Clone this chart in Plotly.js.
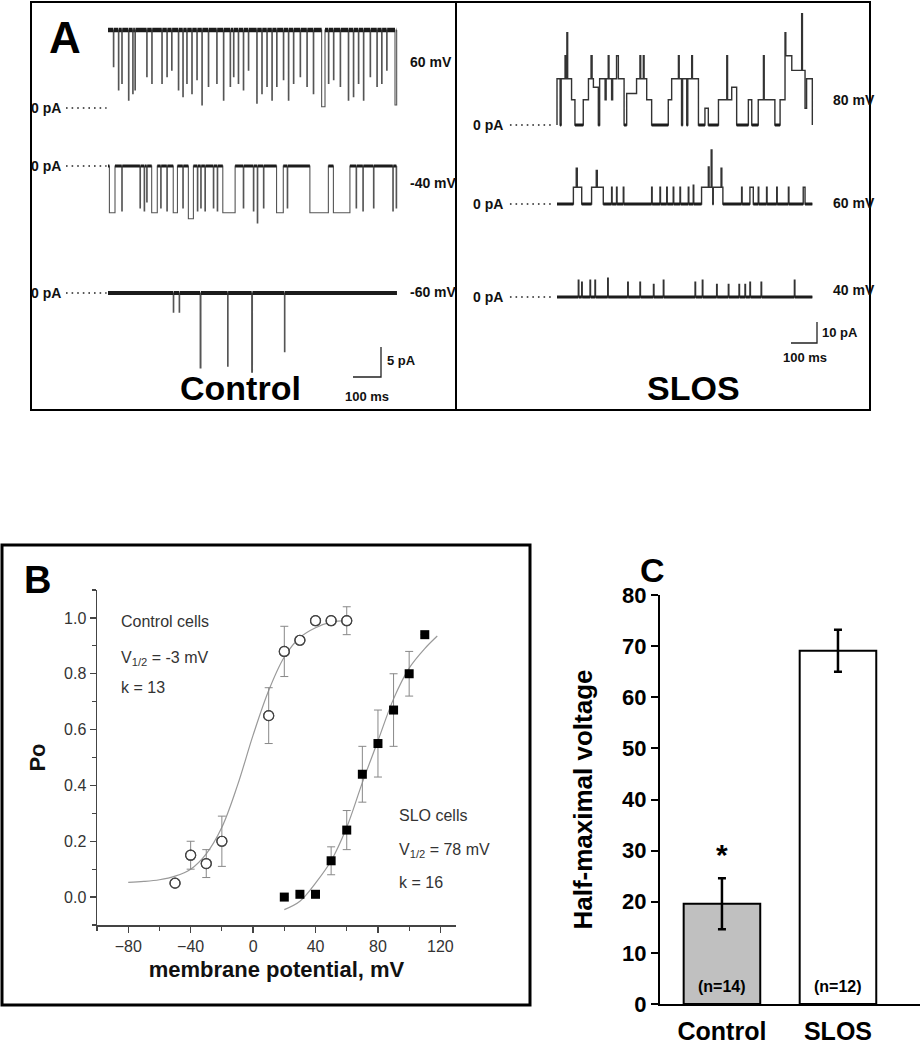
<!DOCTYPE html>
<html>
<head>
<meta charset="utf-8">
<script src="https://cdn.plot.ly/plotly-3.0.1.min.js"></script>
<style>
  body { margin: 0; background: #fff; }
  #chart { width: 921px; height: 1050px; }
</style>
</head>
<body>
<div id="chart"></div>
<script>
// ---- Panel B: open probability vs membrane potential ----
const ctlV = [-50, -40, -30, -20, 10, 20, 30, 40, 50, 60];
const ctlPo = [0.05, 0.15, 0.12, 0.20, 0.65, 0.88, 0.92, 0.99, 0.99, 0.99];
const ctlErr = [0.01, 0.05, 0.05, 0.09, 0.10, 0.09, 0.01, 0, 0, 0.05];
const sloV = [20, 30, 40, 50, 60, 70, 80, 90, 100, 110];
const sloPo = [0.0, 0.01, 0.01, 0.13, 0.24, 0.44, 0.55, 0.67, 0.80, 0.94];
const sloErr = [0, 0, 0.01, 0.05, 0.07, 0.10, 0.12, 0.13, 0.08, 0];
// fitted curves
const ctlFitV = [-80, -70, -60, -50, -40, -30, -20, -10, 0, 10, 20, 30, 40, 50, 60];
const ctlFitPo = [0.053, 0.056, 0.062, 0.075, 0.10, 0.155, 0.25, 0.40, 0.58, 0.74, 0.86, 0.93, 0.965, 0.985, 0.99];
const sloFitV = [20, 30, 40, 50, 60, 70, 80, 90, 100, 110, 118];
const sloFitPo = [-0.045, -0.015, 0.05, 0.13, 0.25, 0.41, 0.56, 0.71, 0.82, 0.89, 0.935];

// ---- Panel C: half-maximal voltage ----
const groups = ['Control', 'SLOS'];
const halfV = [19.6, 69.1];
const halfErr = [5.0, 4.1];
const nCells = [14, 12];

// ---- Panel A: single channel records (ms, pA) ----
// each record: resting level, then events (start ms, duration ms, current pA)
const ctlTotal = 1032;
const ctl60Base = 13;
const ctl60Start = [19, 37, 49, 73, 88, 96, 138, 156, 192, 210, 227, 251, 267, 281, 299, 317, 335, 358, 388, 412,
  436, 448, 465, 483, 501, 531, 549, 567, 585, 602, 626, 644, 662, 686, 710, 733, 763, 787, 805, 829,
  858, 876, 894, 912, 936, 960, 977, 995, 1025];
const ctl60Dur = [2, 2, 2, 2, 2, 2, 2, 2, 2, 2, 2, 2, 2, 2, 2, 2, 2, 2, 2, 2,
  2, 2, 2, 2, 2, 2, 2, 2, 2, 2, 2, 2, 2, 2, 2, 2, 12, 2, 2, 2,
  2, 2, 2, 2, 2, 2, 2, 2, 6];
const ctl60Amp = [6.9, 3.0, 4.1, 1.3, 2.4, 3.0, 5.2, 4.1, 4.1, 5.2, 6.3, 3.0, 1.9, 4.1, 2.4, 4.7, 0.5, 3.6, 4.1, 1.3,
  3.6, 5.2, 4.1, 3.0, 6.3, 0.8, 2.4, 3.6, 1.3, 3.6, 4.7, 1.3, 4.1, 5.2, 3.6, 2.4, 0.2, 4.1, 4.7, 3.6,
  1.3, 1.9, 4.1, 1.3, 5.2, 3.6, 4.1, 6.3, 0.5];

const ctlM40Base = 0;
const ctlM40Start = [5, 49, 114, 129, 138, 156, 188, 210, 233, 267, 287, 319, 331, 346, 376, 390, 410, 483, 519, 533,
  555, 602, 640, 721, 805, 886, 910, 948, 1017, 1029];
const ctlM40Dur = [20, 2, 2, 2, 2, 20, 2, 2, 15, 2, 18, 2, 2, 2, 2, 2, 44, 2, 2, 2,
  2, 24, 2, 66, 59, 2, 2, 2, 2, 2];
const ctlM40Amp = [-7.8, -7.5, -7, -7.5, -6, -7.8, -7, -7.5, -7.8, -7, -8.8, -7.5, -7, -7.5, -7, -7.5, -7.8, -7, -7.5, -9.5,
  -7, -7.8, -7, -7.8, -7.8, -7, -7.5, -7, -7.5, -7];

const ctlM60Base = 0;
const ctlM60Start = [233, 254, 329, 427, 513, 630];
const ctlM60Dur = [2, 2, 3, 2, 3, 2];
const ctlM60Amp = [-3.2, -3.2, -12.5, -12.2, -13.2, -9.8];

const sloTotal = 982;
const slo80Base = 0;
const slo80Start = [0, 16, 31, 34, 38, 41, 56, 101, 121, 131, 135, 140, 164, 185, 189, 197, 200, 210, 214, 229,
  236, 268, 306, 319, 322, 332, 335, 345, 428, 441, 467, 470, 483, 503, 518, 521, 569, 621, 653, 656,
  672, 736, 774, 794, 797, 858, 877, 880, 903, 941, 944, 954, 960];
const slo80Dur = [12, 15, 3, 4, 3, 15, 13, 20, 10, 4, 5, 19, 21, 4, 8, 3, 10, 4, 15, 7,
  22, 38, 13, 3, 10, 3, 10, 19, 13, 26, 3, 9, 16, 15, 3, 23, 13, 32, 3, 16,
  19, 13, 20, 3, 41, 19, 3, 23, 38, 3, 10, 6, 22];
const slo80Amp = [22, 22, 33, 22, 44, 22, 12, 12, 22, 33, 22, 18, 22, 12, 22, 33, 22, 12, 22, 33,
  22, 15, 22, 33, 22, 33, 22, 12, 12, 22, 33, 22, 22, 22, 33, 22, 8, 12, 33, 12,
  18, 12, 12, 33, 12, 12, 44, 33, 26, 53, 26, 8, 22];

const slo60Base = 0;
const slo60Start = [63, 74, 78, 133, 151, 155, 210, 229, 255, 364, 396, 422, 447, 473, 505, 524, 556, 582, 585, 593,
  596, 601, 631, 634, 710, 742, 774, 806, 845, 890, 947];
const slo60Dur = [11, 4, 17, 18, 4, 23, 2, 2, 2, 2, 2, 2, 2, 2, 2, 2, 26, 3, 8, 3,
  3, 30, 3, 4, 2, 13, 2, 2, 2, 2, 7];
const slo60Amp = [8, 17, 8, 8, 16, 8, 8, 8, 8, 8, 8, 8, 8, 8, 8, 9, 8, 17.6, 8, 25.7,
  8, 8, 17, 8, 8, 8, 8, 8, 8, 8, 8];

const slo40Base = 0;
const slo40Start = [82, 95, 127, 146, 195, 272, 319, 371, 409, 531, 559, 614, 659, 700, 723, 742, 785, 913];
const slo40Dur = [2, 2, 2, 2, 2, 2, 2, 2, 2, 2, 2, 2, 2, 2, 2, 2, 2, 2];
const slo40Amp = [8, 7, 8, 8, 9, 7, 7, 6, 8, 7, 8, 6, 6, 6, 6, 7, 7, 8];

// scale bars
const ctlBarMs = 100, ctlBarPa = 5;
const sloBarMs = 100, sloBarPa = 10;

// ---------------------------------------------------------------
const W = 921, H = 1050;
const px = x => x / W;
const py = y => 1 - y / H;
const FONT = 'Arial, "Liberation Sans", sans-serif';

// build a step record from events
function buildSteps(base, start, dur, amp, total) {
  const xs = [0], ys = [base];
  for (let i = 0; i < start.length; i++) {
    xs.push(start[i]); ys.push(amp[i]);
    const end = start[i] + dur[i];
    const next = i + 1 < start.length ? start[i + 1] : Infinity;
    if (next > end) { xs.push(end); ys.push(base); }
  }
  xs.push(total); ys.push(ys[ys.length - 1]);
  return { xs, ys };
}

// pieces of the record that sit on the resting level (drawn thicker, like the noise band)
function restPieces(steps, base) {
  const xs = [], ys = [];
  for (let i = 0; i < steps.xs.length - 1; i++) {
    if (steps.ys[i] === base && steps.xs[i + 1] > steps.xs[i]) {
      xs.push(steps.xs[i], steps.xs[i + 1], null);
      ys.push(base, base, null);
    }
  }
  return { xs, ys };
}

const sides = {
  ctl: { x: 'x3', left: 31, right: 456, t0: 108, pxPerMs: 0.28, pxPerPa: 6, total: ctlTotal,
         zeroText: 63, dots: [-150, -5], voltPx: 408, lineW: 1.1, lineC: '#555' },
  slo: { x: 'x4', left: 456, right: 870, t0: 557, pxPerMs: 0.26, pxPerPa: 2.1, total: sloTotal,
         zeroText: 505, dots: [-181, -19], voltPx: 831, lineW: 1.4, lineC: '#333' }
};

const rows = [
  { side: 'ctl', y: 'y3', top: 20, bottom: 120, zero: 108, labelPx: 62, label: '60 mV', band: 4.5,
    base: ctl60Base, start: ctl60Start, dur: ctl60Dur, amp: ctl60Amp },
  { side: 'ctl', y: 'y4', top: 150, bottom: 235, zero: 166, labelPx: 183, label: '-40 mV', band: 3,
    base: ctlM40Base, start: ctlM40Start, dur: ctlM40Dur, amp: ctlM40Amp },
  { side: 'ctl', y: 'y5', top: 280, bottom: 400, zero: 293, labelPx: 292, label: '-60 mV', band: 4,
    base: ctlM60Base, start: ctlM60Start, dur: ctlM60Dur, amp: ctlM60Amp },
  { side: 'slo', y: 'y6', top: 5, bottom: 135, zero: 125, labelPx: 100, label: '80 mV', band: 3,
    base: slo80Base, start: slo80Start, dur: slo80Dur, amp: slo80Amp },
  { side: 'slo', y: 'y7', top: 140, bottom: 215, zero: 204, labelPx: 203, label: '60 mV', band: 3,
    base: slo60Base, start: slo60Start, dur: slo60Dur, amp: slo60Amp },
  { side: 'slo', y: 'y8', top: 265, bottom: 365, zero: 297, labelPx: 290, label: '40 mV', band: 3,
    base: slo40Base, start: slo40Start, dur: slo40Dur, amp: slo40Amp }
];

const data = [];
const annotations = [];
const layout = {
  width: W, height: H,
  margin: { l: 0, r: 0, t: 0, b: 0 },
  paper_bgcolor: '#fff', plot_bgcolor: 'rgba(0,0,0,0)',
  showlegend: false,
  font: { family: FONT, color: '#000' }
};

// time axes for panel A
for (const key of ['ctl', 'slo']) {
  const s = sides[key];
  const name = s.x === 'x3' ? 'xaxis3' : 'xaxis4';
  layout[name] = {
    domain: [px(s.left), px(s.right)],
    range: [(s.left - s.t0) / s.pxPerMs, (s.right - s.t0) / s.pxPerMs],
    visible: false, fixedrange: true,
    anchor: key === 'ctl' ? 'y3' : 'y6'
  };
}

const labelFont = { family: FONT, size: 14, weight: 'bold', color: '#111' };

rows.forEach(r => {
  const s = sides[r.side];
  layout['yaxis' + r.y.slice(1)] = {
    domain: [py(r.bottom), py(r.top)],
    range: [(r.zero - r.bottom) / s.pxPerPa, (r.zero - r.top) / s.pxPerPa],
    visible: false, fixedrange: true, anchor: s.x
  };
  const steps = buildSteps(r.base, r.start, r.dur, r.amp, s.total);
  const rest = restPieces(steps, r.base);
  data.push({
    type: 'scatter', mode: 'lines', x: steps.xs, y: steps.ys, xaxis: s.x, yaxis: r.y,
    line: { shape: 'hv', color: s.lineC, width: s.lineW }, hoverinfo: 'skip'
  });
  data.push({
    type: 'scatter', mode: 'lines', x: rest.xs, y: rest.ys, xaxis: s.x, yaxis: r.y,
    line: { color: '#1c1c1c', width: r.band }, connectgaps: false, hoverinfo: 'skip'
  });
  // dotted 0 pA reference
  data.push({
    type: 'scatter', mode: 'lines', x: s.dots, y: [0, 0], xaxis: s.x, yaxis: r.y,
    line: { color: '#222', width: 1.6, dash: '1.6px,4px' }, hoverinfo: 'skip'
  });
  annotations.push({
    xref: s.x, yref: r.y, x: (s.zeroText - s.t0) / s.pxPerMs, y: 0,
    text: '0 pA', showarrow: false, xanchor: 'right', yanchor: 'middle', font: labelFont
  });
  annotations.push({
    xref: s.x, yref: r.y, x: (s.voltPx - s.t0) / s.pxPerMs, y: (r.zero - r.labelPx) / s.pxPerPa,
    text: r.label, showarrow: false, xanchor: 'left', yanchor: 'middle', font: labelFont
  });
});

// scale bars
function scaleBar(xax, yax, endT, bottom, ms, pa) {
  data.push({
    type: 'scatter', mode: 'lines', x: [endT - ms, endT, endT], y: [bottom, bottom, bottom + pa],
    xaxis: xax, yaxis: yax, line: { color: '#222', width: 1.3 }, hoverinfo: 'skip', cliponaxis: false
  });
}
scaleBar('x3', 'y5', 975, -14, ctlBarMs, ctlBarPa);
scaleBar('x4', 'y8', 1000, -21.9, sloBarMs, sloBarPa);
const barFont = { family: FONT, size: 13, weight: 'bold', color: '#111' };
annotations.push(
  { xref: 'x3', yref: 'y5', x: 988, y: -11.3, text: ctlBarPa + ' pA', showarrow: false, xanchor: 'left', font: barFont },
  { xref: 'x3', yref: 'y5', x: 925, y: -17.2, text: ctlBarMs + ' ms', showarrow: false, font: barFont },
  { xref: 'x4', yref: 'y8', x: 1010, y: -17, text: sloBarPa + ' pA', showarrow: false, xanchor: 'left', font: barFont },
  { xref: 'x4', yref: 'y8', x: 954, y: -29, text: sloBarMs + ' ms', showarrow: false, font: barFont }
);

// ---- Panel B ----
layout.xaxis = {
  domain: [px(97), px(456)], anchor: 'y', range: [-100, 130],
  tick0: -80, dtick: 40, ticks: 'outside', ticklen: 6, tickwidth: 1.3, tickcolor: '#444',
  minor: { dtick: 20, tick0: -100, ticks: 'outside', ticklen: 4, tickcolor: '#444', tickwidth: 1.2 },
  showline: true, linecolor: '#444', linewidth: 1.5, showgrid: false, zeroline: false,
  tickfont: { size: 16, color: '#333' },
  title: { text: 'membrane potential, mV', font: { size: 22, weight: 'bold', color: '#111' }, standoff: 8 },
  fixedrange: true
};
layout.yaxis = {
  domain: [py(925), py(590)], anchor: 'x', range: [-0.1, 1.1],
  tick0: 0, dtick: 0.2, tickformat: '.1f', ticks: 'outside', ticklen: 6, tickwidth: 1.3, tickcolor: '#444',
  minor: { dtick: 0.1, tick0: -0.1, ticks: 'outside', ticklen: 4, tickcolor: '#444', tickwidth: 1.2 },
  showline: true, linecolor: '#444', linewidth: 1.5, showgrid: false, zeroline: false,
  tickfont: { size: 16, color: '#333' },
  title: { text: 'Po', font: { size: 22, weight: 'bold', color: '#111' }, standoff: 12 },
  fixedrange: true
};

data.push(
  { type: 'scatter', mode: 'lines', x: ctlFitV, y: ctlFitPo, line: { shape: 'spline', color: '#999', width: 1.2 },
    hoverinfo: 'skip' },
  { type: 'scatter', mode: 'lines', x: sloFitV, y: sloFitPo, line: { shape: 'spline', color: '#999', width: 1.2 },
    hoverinfo: 'skip' },
  { type: 'scatter', mode: 'markers', x: ctlV, y: ctlPo, name: 'Control cells',
    error_y: { type: 'data', array: ctlErr, color: '#888', thickness: 1, width: 4 },
    marker: { symbol: 'circle-open', size: 10, color: '#444', line: { width: 1.2, color: '#444' } } },
  { type: 'scatter', mode: 'markers', x: ctlV, y: ctlPo, hoverinfo: 'skip',
    marker: { symbol: 'circle', size: 8, color: '#fff' } },
  { type: 'scatter', mode: 'markers', x: ctlV, y: ctlPo, hoverinfo: 'skip',
    marker: { symbol: 'circle-open', size: 10, color: '#444', line: { width: 1.2, color: '#444' } } },
  { type: 'scatter', mode: 'markers', x: sloV, y: sloPo, name: 'SLO cells',
    error_y: { type: 'data', array: sloErr, color: '#888', thickness: 1, width: 4 },
    marker: { symbol: 'square', size: 9, color: '#000' } }
);

const bText = (x, y, text) => ({
  xref: 'x', yref: 'y', x, y, text, showarrow: false, xanchor: 'left', yanchor: 'middle',
  font: { size: 16, color: '#333' }
});
annotations.push(
  bText(-86, 0.988, 'Control cells'),
  bText(-86, 0.855, 'V<sub>1/2</sub> = -3 mV'),
  bText(-86, 0.749, 'k = 13'),
  bText(92, 0.292, 'SLO cells'),
  bText(92, 0.167, 'V<sub>1/2</sub> = 78 mV'),
  bText(92, 0.053, 'k = 16')
);

// ---- Panel C ----
layout.xaxis2 = {
  domain: [px(660), px(920)], anchor: 'y2', type: 'category', range: [-0.534, 1.707],
  showline: true, linecolor: '#000', linewidth: 2, ticks: '', showgrid: false, zeroline: false,
  tickfont: { size: 25, weight: 'bold', color: '#000' }, ticklabelstandoff: 4, fixedrange: true
};
layout.yaxis2 = {
  domain: [py(1004), py(595)], anchor: 'x2', range: [0, 80], dtick: 10,
  ticks: 'outside', ticklen: 7, tickwidth: 2, tickcolor: '#000',
  showline: true, linecolor: '#000', linewidth: 2, showgrid: false, zeroline: false,
  tickfont: { size: 22, weight: 'bold', color: '#000' },
  title: { text: 'Half-maximal voltage', font: { size: 26, weight: 'bold', color: '#000' }, standoff: 22 },
  fixedrange: true
};
data.push({
  type: 'bar', x: groups, y: halfV, xaxis: 'x2', yaxis: 'y2', width: 0.66,
  marker: { color: ['#c0c0c0', '#ffffff'], line: { color: '#000', width: 2 } },
  error_y: { type: 'data', array: halfErr, color: '#000', thickness: 2.5, width: 4 }
});
annotations.push({ xref: 'x2', yref: 'y2', x: groups[0], y: 29.3, text: '*', showarrow: false,
  font: { size: 30, weight: 'bold' } });
groups.forEach((g, i) => annotations.push({
  xref: 'x2', yref: 'y2', x: g, y: 3.4, text: '(n=' + nCells[i] + ')', showarrow: false,
  font: { size: 16, weight: 'bold' }
}));

// panel letters and group names
const big = (x, y, text, size) => ({ xref: 'paper', yref: 'paper', x: px(x), y: py(y), text, showarrow: false,
  xanchor: 'center', yanchor: 'middle', font: { size, weight: 'bold', color: '#000' } });
annotations.push(
  big(65, 37, 'A', 44),
  big(37, 580, 'B', 38),
  big(652, 570, 'C', 34),
  big(240, 388, 'Control', 34),
  big(693, 388, 'SLOS', 34)
);
layout.annotations = annotations;

layout.shapes = [
  { type: 'rect', xref: 'paper', yref: 'paper', x0: px(31), x1: px(870), y0: py(410), y1: py(2),
    line: { color: '#000', width: 2 } },
  { type: 'line', xref: 'paper', yref: 'paper', x0: px(456), x1: px(456), y0: py(410), y1: py(2),
    line: { color: '#000', width: 2 } },
  { type: 'rect', xref: 'paper', yref: 'paper', x0: px(2), x1: px(530), y0: py(1005), y1: py(545),
    line: { color: '#000', width: 3 } }
];

Plotly.newPlot('chart', data, layout, { staticPlot: true, displayModeBar: false });
</script>
</body>
</html>
